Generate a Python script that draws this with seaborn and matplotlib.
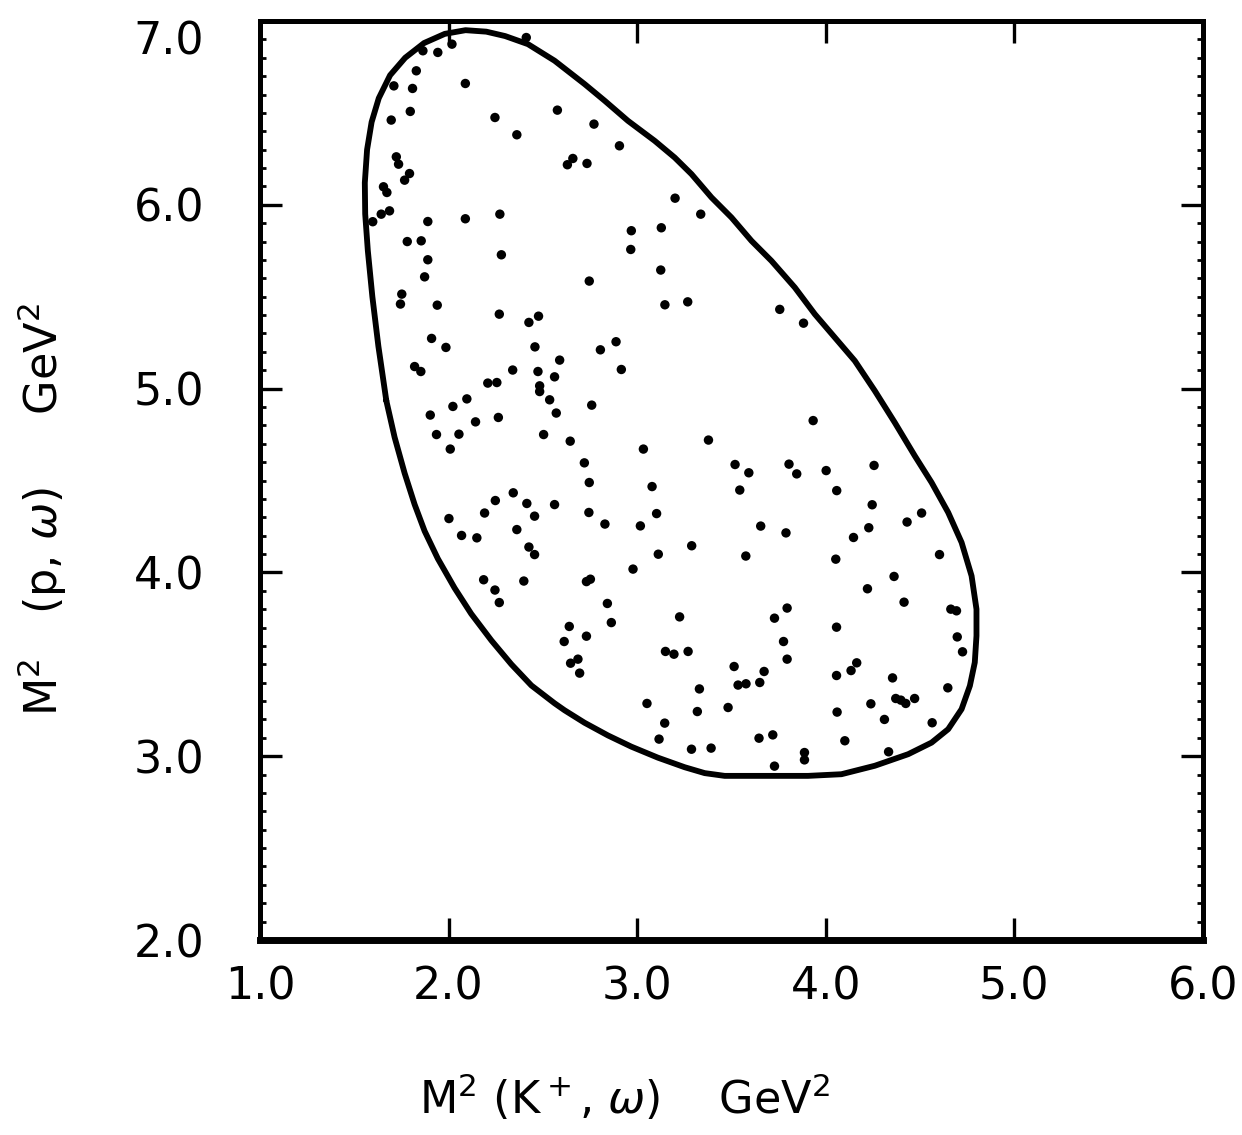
import matplotlib
matplotlib.use("Agg")
import matplotlib.pyplot as plt
import pandas as pd
import seaborn as sns
from matplotlib.ticker import FixedLocator, MultipleLocator

# Dalitz-plot events: M^2(K+, omega) and M^2(p, omega), GeV^2
m2_kw = [
    1.864, 1.943, 2.018, 2.412, 1.829, 1.710, 1.809, 2.089, 1.797, 1.696,
    2.577, 2.246, 2.362, 1.723, 1.735, 1.793, 1.767, 2.630, 2.659, 1.655,
    1.673, 1.687, 1.643, 1.598, 1.890, 2.089, 2.272, 1.781, 1.855, 2.280,
    1.890, 1.873, 1.752, 1.745, 1.940, 2.269, 2.426, 2.477, 1.910, 1.986,
    2.458, 2.589, 1.820, 1.853, 2.340, 2.474, 2.562, 2.208, 2.256, 2.483,
    2.483, 2.097, 2.536,
    2.771, 2.906, 2.734, 3.201, 3.337, 2.969, 3.128, 2.966, 3.125, 2.746,
    3.147, 3.268, 3.756, 2.888, 2.805, 2.916, 3.882,
    2.023, 1.903, 2.143, 2.264, 2.571, 1.936, 2.055, 2.504, 2.645, 2.009,
    2.343, 2.248, 2.415, 2.562, 2.191, 2.456, 2.002, 2.362, 2.069, 2.150,
    2.426, 2.456, 2.186, 2.399, 2.246, 2.269, 2.640, 2.613, 2.647,
    2.759, 3.033, 3.378, 2.720, 3.519, 3.592, 2.746, 3.079, 3.544, 2.744,
    3.103, 2.829, 3.017, 3.655, 3.289, 3.112, 3.576, 2.978, 2.731, 2.752,
    2.842, 3.225, 3.728, 2.863, 2.731, 3.150, 3.195, 3.270, 2.686, 2.695,
    3.514, 3.673, 3.535, 3.577, 3.650, 3.330, 3.052, 3.319, 3.482, 3.146,
    3.116, 3.646, 3.719, 3.288, 3.392, 3.728,
    3.933, 3.805, 3.846, 4.002, 4.256, 4.058, 4.246, 4.508, 4.431, 3.789,
    4.228, 4.147, 4.053, 4.603, 4.362, 4.221, 4.415, 3.795, 4.663, 4.693,
    4.057, 3.776, 4.697, 4.725, 3.795, 4.164, 4.134, 4.057, 4.354, 4.647,
    4.371, 4.398, 4.424, 4.471, 4.239, 4.060, 4.311, 4.564, 4.101, 3.887,
    3.887, 4.333,
]
m2_pw = [
    6.838, 6.829, 6.874, 6.910, 6.729, 6.647, 6.633, 6.660, 6.508, 6.461,
    6.515, 6.475, 6.381, 6.261, 6.221, 6.170, 6.134, 6.218, 6.252, 6.098,
    6.067, 5.967, 5.949, 5.908, 5.909, 5.924, 5.949, 5.800, 5.804, 5.728,
    5.701, 5.608, 5.514, 5.460, 5.454, 5.405, 5.360, 5.394, 5.273, 5.224,
    5.227, 5.155, 5.120, 5.093, 5.101, 5.093, 5.064, 5.030, 5.033, 5.015,
    4.984, 4.944, 4.939,
    6.439, 6.321, 6.225, 6.036, 5.949, 5.859, 5.875, 5.757, 5.645, 5.585,
    5.456, 5.472, 5.431, 5.255, 5.211, 5.104, 5.356,
    4.903, 4.856, 4.819, 4.843, 4.867, 4.750, 4.752, 4.750, 4.714, 4.671,
    4.433, 4.391, 4.375, 4.369, 4.323, 4.306, 4.293, 4.233, 4.201, 4.188,
    4.138, 4.097, 3.960, 3.953, 3.904, 3.836, 3.706, 3.624, 3.506,
    4.910, 4.671, 4.720, 4.596, 4.587, 4.542, 4.489, 4.467, 4.448, 4.326,
    4.320, 4.263, 4.253, 4.252, 4.145, 4.099, 4.089, 4.018, 3.950, 3.963,
    3.831, 3.758, 3.751, 3.727, 3.653, 3.570, 3.555, 3.570, 3.528, 3.452,
    3.488, 3.461, 3.387, 3.394, 3.401, 3.366, 3.287, 3.243, 3.265, 3.180,
    3.093, 3.098, 3.116, 3.038, 3.044, 2.946,
    4.826, 4.589, 4.536, 4.554, 4.582, 4.445, 4.368, 4.323, 4.274, 4.215,
    4.243, 4.190, 4.072, 4.097, 3.978, 3.911, 3.838, 3.806, 3.800, 3.791,
    3.702, 3.624, 3.649, 3.568, 3.528, 3.508, 3.466, 3.439, 3.426, 3.372,
    3.314, 3.305, 3.287, 3.314, 3.285, 3.240, 3.200, 3.182, 3.084, 3.020,
    2.980, 3.024,
]

# Kinematic boundary of the Dalitz plot, traced clockwise
boundary_kw = [
    1.670, 1.628, 1.596, 1.572, 1.558, 1.556, 1.568, 1.592, 1.630, 1.690,
    1.770, 1.870, 1.980, 2.090, 2.200, 2.300, 2.421, 2.562, 2.721, 2.828,
    2.951, 3.093, 3.199, 3.288, 3.394, 3.500, 3.606, 3.712, 3.836, 3.942,
    4.048, 4.154, 4.260, 4.366, 4.472, 4.561, 4.649, 4.720, 4.773, 4.799,
    4.799, 4.790, 4.764, 4.720, 4.649, 4.561, 4.437, 4.260, 4.083, 3.906,
    3.729, 3.606, 3.464, 3.358, 3.252, 3.110, 2.969, 2.845, 2.721, 2.615,
    2.562, 2.439, 2.333, 2.227, 2.120, 2.032, 1.943, 1.873, 1.820, 1.767,
    1.714, 1.670,
]
boundary_pw = [
    4.934, 5.230, 5.500, 5.750, 5.950, 6.120, 6.300, 6.450, 6.580, 6.705,
    6.800, 6.880, 6.930, 6.950, 6.942, 6.918, 6.874, 6.784, 6.657, 6.566,
    6.457, 6.348, 6.257, 6.167, 6.040, 5.931, 5.804, 5.695, 5.550, 5.405,
    5.278, 5.151, 4.988, 4.815, 4.634, 4.489, 4.326, 4.163, 3.981, 3.800,
    3.655, 3.510, 3.383, 3.256, 3.147, 3.074, 3.011, 2.948, 2.902, 2.893,
    2.893, 2.893, 2.893, 2.908, 2.940, 2.992, 3.052, 3.113, 3.182, 3.250,
    3.288, 3.385, 3.500, 3.630, 3.775, 3.915, 4.075, 4.225, 4.370, 4.540,
    4.735, 4.934,
]

x_ticks = [1.0, 2.0, 3.0, 4.0, 5.0, 6.0]
y_ticks = [2.0, 3.0, 4.0, 5.0, 6.0, 7.0]
x_tick_labels = ["1.0", "2.0", "3.0", "4.0", "5.0", "6.0"]
y_tick_labels = ["2.0", "3.0", "4.0", "5.0", "6.0", "7.0"]

sns.set_theme(style="ticks")
plt.rcParams["font.family"] = ["DejaVu Sans"]

events = pd.DataFrame({"kw": m2_kw, "pw": m2_pw})
edge = pd.DataFrame({"kw": boundary_kw, "pw": boundary_pw})

fig = plt.figure(figsize=(12.42, 11.35), dpi=100)
ax = fig.add_axes([0.2093, 0.1718, 0.7593, 0.8097])

sns.lineplot(data=edge, x="kw", y="pw", sort=False, estimator=None,
             color="black", linewidth=4.2, ax=ax)
sns.scatterplot(data=events, x="kw", y="pw", color="black", s=46,
                edgecolor="none", ax=ax)

ax.set_xlim(1.0, 6.0)
ax.set_ylim(2.0, 7.0)
ax.set_xlabel("")
ax.set_ylabel("")

ax.xaxis.set_major_locator(FixedLocator(x_ticks))
ax.yaxis.set_major_locator(FixedLocator(y_ticks))
ax.set_xticklabels(x_tick_labels)
ax.set_yticklabels(y_tick_labels)
ax.yaxis.set_minor_locator(MultipleLocator(0.1))

for side in ["left", "right", "top"]:
    ax.spines[side].set_linewidth(3.6)
    ax.spines[side].set_color("black")
ax.spines["bottom"].set_linewidth(5.0)
ax.spines["bottom"].set_color("black")

ax.tick_params(axis="both", which="major", direction="in", length=16,
               width=2.4, color="black", labelsize=32, labelcolor="black",
               top=True, right=True)
ax.tick_params(axis="x", which="major", pad=18)
ax.tick_params(axis="y", which="major", pad=40)
ax.tick_params(axis="y", which="minor", direction="in", length=4,
               width=2.0, color="black", left=True, right=True)
ax.tick_params(axis="x", which="minor", bottom=False, top=False)

ylabs = ax.get_yticklabels()
ylabs[-1].set_verticalalignment("top")

fig.text(0.503, 0.033, r"M$^2$ (K$^+$, $\omega$)    GeV$^2$",
         fontsize=32, ha="center", va="center", color="black")
fig.text(0.034, 0.551, r"M$^2$   (p, $\omega$)     GeV$^2$",
         fontsize=32, ha="center", va="center", rotation=90, color="black")

fig.savefig("out.png", dpi=100, facecolor="white")
